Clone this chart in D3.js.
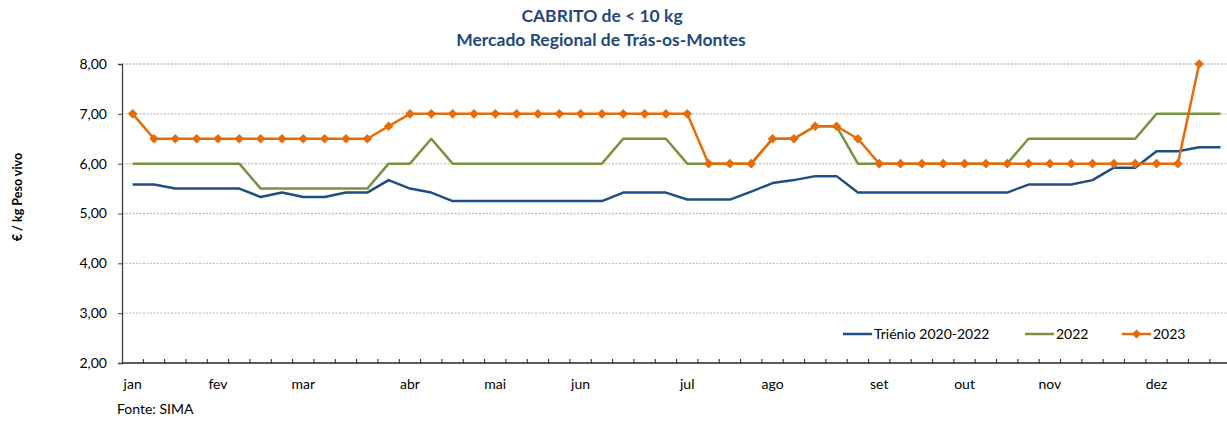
<!DOCTYPE html>
<html>
<head>
<meta charset="utf-8">
<script src="https://cdn.jsdelivr.net/npm/d3@7"></script>
<style>
  body { margin: 0; background: #fff; }
  svg { display: block; font-family: Lato, "Open Sans", sans-serif; }
</style>
</head>
<body>
<div id="chart"></div>
<script>
// weekly prices, €/kg live weight
const months = ["jan", "fev", "mar", "abr", "mai", "jun", "jul", "ago", "set", "out", "nov", "dez"];
const monthStartWeek = [0, 4, 8, 13, 17, 21, 26, 30, 35, 39, 43, 48];
const weekCount = 52;

const trienio = [5.58, 5.58, 5.50, 5.50, 5.50, 5.50, 5.33, 5.42, 5.33, 5.33, 5.42, 5.42, 5.67, 5.50, 5.42,
  5.25, 5.25, 5.25, 5.25, 5.25, 5.25, 5.25, 5.25, 5.42, 5.42, 5.42, 5.28, 5.28, 5.28, 5.44, 5.61, 5.67,
  5.75, 5.75, 5.42, 5.42, 5.42, 5.42, 5.42, 5.42, 5.42, 5.42, 5.58, 5.58, 5.58, 5.67, 5.92, 5.92, 6.25,
  6.25, 6.33, 6.33];
const y2022 = [6.0, 6.0, 6.0, 6.0, 6.0, 6.0, 5.5, 5.5, 5.5, 5.5, 5.5, 5.5, 6.0, 6.0, 6.5, 6.0, 6.0, 6.0,
  6.0, 6.0, 6.0, 6.0, 6.0, 6.5, 6.5, 6.5, 6.0, 6.0, 6.0, 6.0, 6.5, 6.5, 6.75, 6.75, 6.0, 6.0, 6.0, 6.0,
  6.0, 6.0, 6.0, 6.0, 6.5, 6.5, 6.5, 6.5, 6.5, 6.5, 7.0, 7.0, 7.0, 7.0];
const y2023 = [7.0, 6.5, 6.5, 6.5, 6.5, 6.5, 6.5, 6.5, 6.5, 6.5, 6.5, 6.5, 6.75, 7.0, 7.0, 7.0, 7.0, 7.0,
  7.0, 7.0, 7.0, 7.0, 7.0, 7.0, 7.0, 7.0, 7.0, 6.0, 6.0, 6.0, 6.5, 6.5, 6.75, 6.75, 6.5, 6.0, 6.0, 6.0,
  6.0, 6.0, 6.0, 6.0, 6.0, 6.0, 6.0, 6.0, 6.0, 6.0, 6.0, 6.0, 8.0];
const yTicks = [2, 3, 4, 5, 6, 7, 8];

const series = [
  { name: "Triénio 2020-2022", values: trienio, color: "#1F4E84", marker: false },
  { name: "2022", values: y2022, color: "#77933C", marker: false },
  { name: "2023", values: y2023, color: "#E46C0A", marker: true }
];

const width = 1227, height = 421;
const plotLeft = 122, plotTop = 64, plotBottom = 363;
const weeks = d3.range(weekCount);

const svg = d3.select("#chart").append("svg")
    .attr("width", width)
    .attr("height", height);

const x = d3.scaleBand().domain(weeks).range([plotLeft, plotLeft + weekCount * 21.33]).padding(0);
const cx = i => x(i) + x.bandwidth() / 2;
const y = d3.scaleLinear().domain([2, 8]).range([plotBottom, plotTop]);

// titles
const title = svg.append("g").attr("fill", "#1F497D").attr("font-weight", "bold")
    .attr("text-anchor", "middle").attr("font-size", 17.5);
title.append("text").attr("x", 602).attr("y", 22).text("CABRITO de < 10 kg");
title.append("text").attr("x", 601).attr("y", 46).text("Mercado Regional de Trás-os-Montes");

// gridlines
svg.append("g").selectAll("line")
    .data(yTicks.filter(d => d > 2))
    .join("line")
    .attr("x1", plotLeft).attr("x2", x.range()[1])
    .attr("y1", d => y(d)).attr("y2", d => y(d))
    .attr("stroke", "#BFBFBF").attr("stroke-width", 1.3)
    .attr("stroke-dasharray", "2,1.5");

// y axis
const yAxis = svg.append("g")
    .attr("transform", `translate(${plotLeft},0)`)
    .call(d3.axisLeft(y).tickValues(yTicks).tickSize(4).tickPadding(11)
        .tickFormat(d => d3.format(".2f")(d).replace(".", ",")));
yAxis.select(".domain").attr("stroke", "#404040").attr("stroke-width", 1.3);
yAxis.selectAll(".tick line").attr("stroke", "#404040");
yAxis.selectAll("text").attr("font-size", 14).attr("fill", "#000")
    .attr("font-family", "Lato, sans-serif");

// x axis
const xAxisG = svg.append("g");
xAxisG.append("line")
    .attr("x1", plotLeft).attr("x2", x.range()[1])
    .attr("y1", plotBottom).attr("y2", plotBottom)
    .attr("stroke", "#262626").attr("stroke-width", 1.3);
xAxisG.selectAll(".wk")
    .data(weeks.slice(1))
    .join("line")
    .attr("class", "wk")
    .attr("x1", d => x(d)).attr("x2", d => x(d))
    .attr("y1", plotBottom).attr("y2", plotBottom - 4)
    .attr("stroke", "#262626").attr("stroke-width", 1);
xAxisG.selectAll(".mlab")
    .data(months)
    .join("text")
    .attr("class", "mlab")
    .attr("x", (d, i) => cx(monthStartWeek[i]))
    .attr("y", 389)
    .attr("text-anchor", "middle")
    .attr("font-size", 14)
    .text(d => d);

// y label
svg.append("text")
    .attr("transform", "translate(22,197) rotate(-90)")
    .attr("text-anchor", "middle")
    .attr("font-size", 12.5).attr("font-weight", "bold")
    .text("€ / kg Peso vivo");

// lines
const line = d3.line().x((d, i) => cx(i)).y(d => y(d));
series.forEach(s => {
  svg.append("path")
      .datum(s.values)
      .attr("fill", "none")
      .attr("stroke", s.color)
      .attr("stroke-width", 2.5)
      .attr("stroke-linejoin", "round")
      .attr("d", line);
  if (s.marker) {
    svg.append("g").selectAll("path")
        .data(s.values)
        .join("path")
        .attr("transform", (d, i) => `translate(${cx(i)},${y(d)}) rotate(45)`)
        .attr("d", d3.symbol().type(d3.symbolSquare).size(46))
        .attr("fill", s.color);
  }
});

// legend
const legendX = [843, 1025, 1122];
const legend = svg.append("g").selectAll("g")
    .data(series)
    .join("g")
    .attr("transform", (d, i) => `translate(${legendX[i]},334)`);
legend.append("line")
    .attr("x1", 0).attr("x2", 29)
    .attr("stroke", d => d.color).attr("stroke-width", 2.5);
legend.filter(d => d.marker).append("path")
    .attr("transform", "translate(14.5,0) rotate(45)")
    .attr("d", d3.symbol().type(d3.symbolSquare).size(40))
    .attr("fill", d => d.color);
legend.append("text")
    .attr("x", 31).attr("y", 5)
    .attr("font-size", 14)
    .text(d => d.name);

// source
svg.append("text")
    .attr("x", 117).attr("y", 414)
    .attr("font-size", 14)
    .text("Fonte: SIMA");
</script>
</body>
</html>
